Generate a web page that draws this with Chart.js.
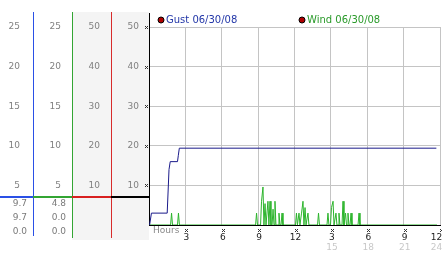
<!DOCTYPE html>
<html>
<head>
<meta charset="utf-8">
<script src="https://cdn.jsdelivr.net/npm/chart.js@4/dist/chart.umd.min.js"></script>
<style>
  html, body { margin: 0; padding: 0; background: #fff; }
</style>
</head>
<body>
<canvas id="chartCanvas" width="442" height="253"></canvas>
<script>
// gust: hours since midnight, speed on the blue 0-25 axis
const gustHours = [0.05, 0.2, 1.5, 1.65, 1.75, 2.35, 2.42, 2.5, 23.7];
const gustSpeeds = [0, 1.5, 1.5, 7.0, 8.0, 8.0, 8.8, 9.7, 9.7];

// wind: readings on the green 0-25 axis
const windHours = [
    0, 1.78, 1.86, 1.94, 2.35, 2.43, 2.51,
    8.79, 8.87, 8.95, 9.2, 9.28, 9.4, 9.48, 9.57, 9.65, 9.73, 9.81, 9.89, 9.98, 10.06,
    10.15, 10.23, 10.31, 10.39, 10.47, 10.64, 10.72, 10.8, 10.89, 10.97, 11.05,
    12.08, 12.16, 12.24, 12.37, 12.45, 12.58, 12.7, 12.78, 12.87, 12.95, 13.03, 13.11, 13.19,
    13.9, 13.98, 14.06, 14.68, 14.76, 14.84,
    14.97, 15.05, 15.18, 15.26, 15.34, 15.42, 15.5, 15.59, 15.67, 15.75,
    15.92, 16.0, 16.08, 16.21, 16.29, 16.33, 16.41, 16.49, 16.58, 16.66, 16.74,
    17.24, 17.32, 17.4, 23.75
];
const windSpeeds = [
    0, 0, 1.5, 0, 0, 1.5, 0,
    0, 1.5, 0, 0, 3.0, 4.8, 0, 2.7, 0, 0, 3.0, 0, 3.0, 0,
    0, 2.0, 0, 3.0, 0, 0, 1.5, 0, 0, 1.5, 0,
    0, 1.5, 0, 1.5, 0, 1.5, 3.0, 0, 2.2, 0, 0, 1.5, 0,
    0, 1.5, 0, 0, 1.5, 0,
    0, 2.2, 3.0, 0, 0, 1.5, 0, 0, 1.5, 0,
    0, 3.0, 0, 1.5, 0, 0, 1.5, 0, 0, 1.5, 0,
    0, 1.5, 0, 0
];

const seriesNames = ['Gust 06/30/08', 'Wind 06/30/08'];
const gustReadouts = ['9.7', '9.7', '0.0'];
const windReadouts = ['4.8', '0.0', '0.0'];
const hourTicks = ['', '3', '6', '9', '12', '3', '6', '9', '12\u2003'];
const hourTicks24 = ['', '', '', '', '', '15', '18', '21', '24\u2003'];

Chart.defaults.font.family = 'DejaVu Sans';
Chart.defaults.font.size = 9;

function dotMark(ctx, x, y) {
    ctx.fillRect(x - 1, y - 1, 1, 1);
    ctx.fillRect(x + 1, y - 1, 1, 1);
    ctx.fillRect(x, y, 1, 1);
    ctx.fillRect(x - 1, y + 1, 1, 1);
    ctx.fillRect(x + 1, y + 1, 1, 1);
}

const panelPlugin = {
    id: 'panel',
    beforeDraw(chart) {
        const ctx = chart.ctx;
        const s = chart.scales;
        ctx.save();
        ctx.fillStyle = '#f4f4f4';
        [s.yRed, s.y].forEach(a => ctx.fillRect(a.left, 12, a.right - a.left, 228));
        ctx.restore();
    },
    afterDraw(chart) {
        const ctx = chart.ctx;
        const s = chart.scales;
        const area = chart.chartArea;
        ctx.save();

        // column rules
        const cols = [[s.yGust, '#2a50e6', 236], [s.yWind, '#33a533', 238], [s.yRed, '#d82c2c', 238]];
        cols.forEach(([a, color, bottom]) => {
            ctx.fillStyle = color;
            ctx.fillRect(Math.round(a.right), 12, 1, bottom - 12);
        });
        ctx.fillStyle = '#000';
        ctx.fillRect(Math.round(area.left), 13, 1, area.top - 13);

        // separator above the readouts
        const sepY = Math.round(area.bottom) - 29;
        [[s.yGust, '#2a50e6'], [s.yWind, '#33a533'], [s.yRed, '#d82020'], [s.y, '#000']].forEach(([a, color]) => {
            ctx.fillStyle = color;
            ctx.fillRect(a.left, sepY, a.right - a.left + 1, 2);
        });

        // readouts
        ctx.font = '9px "DejaVu Sans"';
        ctx.fillStyle = '#7a7a7a';
        ctx.textAlign = 'right';
        ctx.textBaseline = 'middle';
        gustReadouts.forEach((t, i) => ctx.fillText(t, s.yGust.right - 6, sepY + 8 + i * 14));
        windReadouts.forEach((t, i) => ctx.fillText(t, s.yWind.right - 6, sepY + 8 + i * 14));

        // tick marks
        ctx.fillStyle = '#333';
        s.y.ticks.forEach(t => {
            if (t.value > 0) dotMark(ctx, Math.round(area.left) - 3, Math.round(s.y.getPixelForValue(t.value)));
        });
        s.x.ticks.forEach(t => {
            if (t.value > 0) dotMark(ctx, Math.round(s.x.getPixelForValue(t.value)) + 1, Math.round(area.bottom) + 5);
        });

        // hours caption
        ctx.textAlign = 'left';
        ctx.fillStyle = '#8a8a8a';
        ctx.fillText('Hours', area.left + 4, area.bottom + 6);

        // legend
        const legendX = [area.left + 12, area.left + 153];
        const legendColors = ['#2236a8', '#2a9a2a'];
        ctx.font = '10px "DejaVu Sans"';
        seriesNames.forEach((name, i) => {
            ctx.beginPath();
            ctx.arc(legendX[i], 20, 3, 0, Math.PI * 2);
            ctx.fillStyle = '#b00000';
            ctx.fill();
            ctx.strokeStyle = '#000';
            ctx.lineWidth = 1;
            ctx.stroke();
            ctx.fillStyle = legendColors[i];
            ctx.fillText(name, legendX[i] + 5, 20);
        });
        ctx.restore();
    }
};

function sideAxis(max, step, weight, width, pad) {
    return {
        type: 'linear',
        position: 'left',
        min: 0,
        max: max,
        weight: weight,
        ticks: {
            stepSize: step,
            padding: pad,
            color: '#808080',
            callback: v => v === 0 ? '' : String(v)
        },
        grid: { display: false, drawTicks: false },
        border: { display: false },
        afterFit: scale => { scale.width = width; }
    };
}

const yBlack = sideAxis(50, 10, 1, 38, 10);
yBlack.grid = { display: true, color: '#c4c4c4', drawTicks: false };
yBlack.border = { display: true, color: '#000' };

function hourAxis(labels, color, padding, height) {
    return {
        type: 'linear',
        position: 'bottom',
        min: 0,
        max: 24,
        ticks: {
            stepSize: 3,
            autoSkip: false,
            maxRotation: 0,
            padding: padding,
            labelOffset: 1,
            color: color,
            callback: (v, i) => labels[i]
        },
        afterFit: scale => {
            scale.height = height;
            scale.paddingLeft = 0;
            scale.paddingRight = 0;
        }
    };
}

const xHours = hourAxis(hourTicks, '#222', 7, 17);
xHours.grid = { color: '#c4c4c4', drawTicks: false };
xHours.border = { color: '#000' };

const xHours24 = hourAxis(hourTicks24, '#c8c8c8', 0, 11);
xHours24.grid = { display: false, drawTicks: false };
xHours24.border = { display: false };

const ctx = document.getElementById('chartCanvas').getContext('2d');
const chart = new Chart(ctx, {
    type: 'line',
    data: {
        datasets: [{
            label: seriesNames[0],
            data: gustHours.map((h, i) => ({ x: h, y: gustSpeeds[i] })),
            borderColor: '#1a1a8a',
            borderWidth: 1,
            pointRadius: 0,
            tension: 0,
            yAxisID: 'yGust'
        }, {
            label: seriesNames[1],
            data: windHours.map((h, i) => ({ x: h, y: windSpeeds[i] })),
            borderColor: '#2cb42c',
            borderWidth: 1,
            pointRadius: 0,
            tension: 0,
            yAxisID: 'yWind'
        }]
    },
    options: {
        responsive: false,
        animation: false,
        events: [],
        layout: { padding: { top: 27, right: 2, left: 0, bottom: 0 } },
        plugins: { legend: { display: false }, tooltip: { enabled: false } },
        scales: {
            x: xHours,
            x2: xHours24,
            y: yBlack,
            yRed: sideAxis(50, 10, 2, 39, 11),
            yWind: sideAxis(25, 5, 3, 39, 11),
            yGust: sideAxis(25, 5, 4, 33, 13)
        }
    },
    plugins: [panelPlugin]
});
</script>
</body>
</html>
